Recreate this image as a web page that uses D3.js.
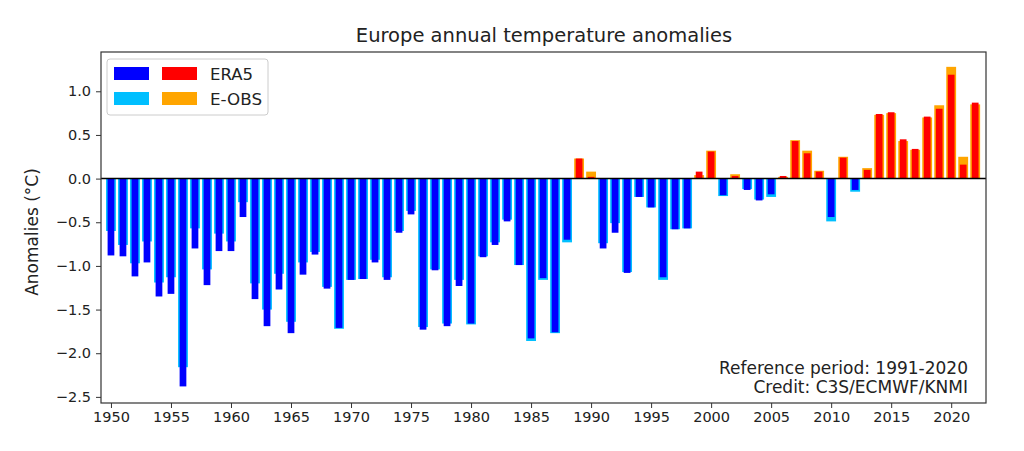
<!DOCTYPE html>
<html>
<head>
<meta charset="utf-8">
<script src="https://cdn.jsdelivr.net/npm/d3@7"></script>
<style>
  html, body { margin: 0; padding: 0; background: #fff; }
  svg { display: block; font-family: "DejaVu Sans", sans-serif; }
</style>
</head>
<body>
<svg id="chart" width="1024" height="451"></svg>
<script>
const years = d3.range(1950, 2023);
const era5 = [
  -0.88, -0.89, -1.12, -0.96, -1.35, -1.32, -2.38, -0.80, -1.22, -0.83,
  -0.83, -0.44, -1.38, -1.69, -1.27, -1.77, -1.10, -0.87, -1.26, -1.71,
  -1.16, -1.15, -0.96, -1.16, -0.62, -0.41, -1.73, -1.05, -1.69, -1.23,
  -1.66, -0.90, -0.76, -0.49, -0.99, -1.83, -1.14, -1.76, -0.70, 0.23,
  0.02, -0.80, -0.62, -1.08, -0.21, -0.33, -1.13, -0.58, -0.57, 0.08,
  0.31, -0.19, 0.03, -0.13, -0.25, -0.18, 0.03, 0.43, 0.29, 0.08,
  -0.44, 0.24, -0.13, 0.10, 0.74, 0.76, 0.45, 0.34, 0.71, 0.80,
  1.19, 0.16, 0.87
];
const eobs = [
  -0.60, -0.76, -0.97, -0.72, -1.19, -1.13, -2.16, -0.57, -1.04, -0.63,
  -0.72, -0.27, -1.20, -1.50, -1.09, -1.64, -0.96, -0.84, -1.24, -1.72,
  -1.16, -1.15, -0.93, -1.13, -0.60, -0.37, -1.70, -1.04, -1.66, -1.16,
  -1.67, -0.89, -0.73, -0.47, -0.99, -1.86, -1.16, -1.77, -0.73, 0.23,
  0.08, -0.74, -0.51, -1.07, -0.21, -0.33, -1.16, -0.58, -0.57, 0.04,
  0.32, -0.20, 0.05, -0.12, -0.24, -0.21, 0.02, 0.44, 0.32, 0.09,
  -0.49, 0.25, -0.15, 0.12, 0.73, 0.75, 0.43, 0.33, 0.70, 0.84,
  1.28, 0.25, 0.85
];
const yTicks = [1.0, 0.5, 0.0, -0.5, -1.0, -1.5, -2.0, -2.5];
const xTicks = [1950, 1955, 1960, 1965, 1970, 1975, 1980, 1985, 1990, 1995, 2000, 2005, 2010, 2015, 2020];
const seriesNames = ["ERA5", "E-OBS"];
const notes = ["Reference period: 1991-2020", "Credit: C3S/ECMWF/KNMI"];

const colors = {
  era5: { neg: "#0000ff", pos: "#ff0000" },
  eobs: { neg: "#00bfff", pos: "#ffa500" }
};

const svg = d3.select("#chart");
const pLeft = 101, pRight = 986, pTop = 52, pBottom = 403;

const x = d3.scaleLinear().domain([1949.17, 2022.9]).range([pLeft, pRight]);
const y = d3.scaleLinear().domain([-2.57, 1.45]).range([pBottom, pTop]);
const step = x(1951) - x(1950);
const wObs = step * 0.82, wEra = step * 0.56;

const data = years.map((yr, i) => ({ year: yr, era5: era5[i], eobs: eobs[i] }));

const g = svg.append("g");
// E-OBS wide bars behind
g.selectAll("rect.eobs").data(data).join("rect")
  .attr("class", "eobs")
  .attr("x", d => x(d.year) - wObs / 2)
  .attr("width", wObs)
  .attr("y", d => y(Math.max(0, d.eobs)))
  .attr("height", d => Math.abs(y(d.eobs) - y(0)))
  .attr("fill", d => d.eobs >= 0 ? colors.eobs.pos : colors.eobs.neg);
// ERA5 narrow bars on top
g.selectAll("rect.era5").data(data).join("rect")
  .attr("class", "era5")
  .attr("x", d => x(d.year) - wEra / 2)
  .attr("width", wEra)
  .attr("y", d => y(Math.max(0, d.era5)))
  .attr("height", d => Math.abs(y(d.era5) - y(0)))
  .attr("fill", d => d.era5 >= 0 ? colors.era5.pos : colors.era5.neg);

// zero line
svg.append("line")
  .attr("x1", pLeft).attr("x2", pRight)
  .attr("y1", y(0)).attr("y2", y(0))
  .attr("stroke", "#000").attr("stroke-width", 1.5);

// axes
const fmt = d => d3.format(".1f")(d).replace("-", "\u2212");
const yAxis = svg.append("g").attr("transform", `translate(${pLeft},0)`)
  .call(d3.axisLeft(y).tickValues(yTicks).tickFormat(fmt).tickSize(5).tickPadding(5));
const xAxis = svg.append("g").attr("transform", `translate(0,${pBottom})`)
  .call(d3.axisBottom(x).tickValues(xTicks).tickFormat(d3.format("d")).tickSize(5).tickPadding(4));
[yAxis, xAxis].forEach(a => {
  a.select(".domain").remove();
  a.selectAll("line").attr("stroke", "#333");
  a.selectAll("text").attr("fill", "#222").style("font-size", "14.5px")
    .style("font-family", "DejaVu Sans, sans-serif");
});

// frame
svg.append("rect")
  .attr("x", pLeft).attr("y", pTop)
  .attr("width", pRight - pLeft).attr("height", pBottom - pTop)
  .attr("fill", "none").attr("stroke", "#333").attr("stroke-width", 1.2);

// title
svg.append("text")
  .attr("x", 544).attr("y", 42)
  .attr("text-anchor", "middle")
  .attr("fill", "#222")
  .style("font-size", "19.5px")
  .text("Europe annual temperature anomalies");

// y label
svg.append("text")
  .attr("transform", `translate(38,232) rotate(-90)`)
  .attr("text-anchor", "middle")
  .attr("fill", "#222")
  .style("font-size", "17px")
  .text("Anomalies (\u00b0C)");

// notes
notes.forEach((t, i) => {
  svg.append("text")
    .attr("x", 968).attr("y", 374 + i * 19)
    .attr("text-anchor", "end")
    .attr("fill", "#222")
    .style("font-size", "17px")
    .text(t);
});

// legend
const lg = svg.append("g");
lg.append("rect")
  .attr("x", 107).attr("y", 59).attr("width", 161).attr("height", 56)
  .attr("rx", 3).attr("fill", "#fff").attr("fill-opacity", 0.8)
  .attr("stroke", "#ccc");
const legendRows = [
  { name: seriesNames[0], c: colors.era5 },
  { name: seriesNames[1], c: colors.eobs }
];
legendRows.forEach((r, i) => {
  const yy = 67 + i * 25;
  lg.append("rect").attr("x", 114).attr("y", yy).attr("width", 35).attr("height", 13).attr("fill", r.c.neg);
  lg.append("rect").attr("x", 162).attr("y", yy).attr("width", 35).attr("height", 13).attr("fill", r.c.pos);
  lg.append("text").attr("x", 210).attr("y", yy + 13)
    .attr("fill", "#222").style("font-size", "16.5px")
    .attr("textLength", i === 0 ? 43 : 52).attr("lengthAdjust", "spacingAndGlyphs")
    .text(r.name);
});
</script>
</body>
</html>
